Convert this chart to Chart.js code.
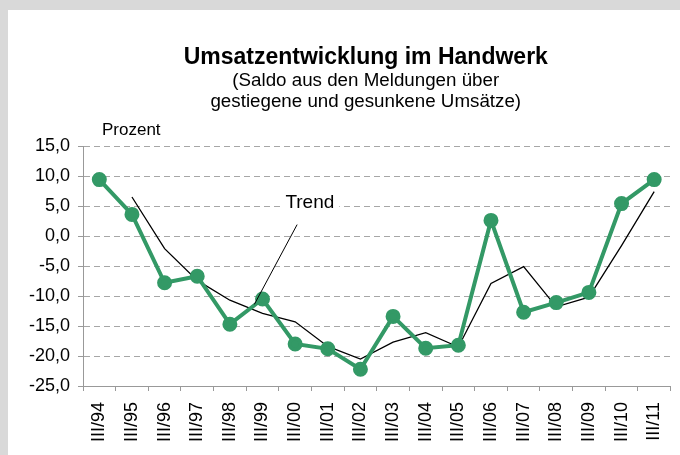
<!DOCTYPE html>
<html lang="de">
<head>
  <meta charset="UTF-8">
  <meta name="viewport" content="width=device-width, initial-scale=1.0">
  <title>Umsatzentwicklung im Handwerk</title>
  <style>
    body {
      margin: 0;
      background: #d9d9d9;
      font-family: "Liberation Sans", Arial, sans-serif;
    }
    .panel {
      position: absolute;
      left: 8px;
      top: 10px;
      width: 672px;
      height: 445px;
      background: #fff;
    }
    canvas {
      display: block;
    }
  </style>
</head>
<body>
  <div class="panel">
    <canvas id="umsatzChart" width="672" height="445"></canvas>
  </div>

  <script src="https://cdn.jsdelivr.net/npm/chart.js"></script>
  <script>
    // Quartale (jeweils III. Quartal)
    const quartale = ['III/94', 'III/95', 'III/96', 'III/97', 'III/98', 'III/99', 'III/00', 'III/01', 'III/02',
                      'III/03', 'III/04', 'III/05', 'III/06', 'III/07', 'III/08', 'III/09', 'III/10', 'III/11'];
    // Saldo gestiegene minus gesunkene Umsätze, in Prozent
    const saldo = [9.4, 3.6, -7.8, -6.7, -14.7, -10.5, -18.0, -18.8, -22.2,
                   -13.4, -18.7, -18.2, 2.6, -12.7, -11.1, -9.4, 5.4, 9.4];
    // geglätteter Trend (erst ab III/95)
    const trend = [null, 6.5, -2.1, -7.4, -10.7, -12.9, -14.3, -18.4, -20.5,
                   -17.7, -16.1, -18.5, -7.9, -5.1, -11.8, -10.2, -1.6, 7.4];
    // y-Achse
    const yMin = -25;
    const yMax = 15;
    const yStep = 5;

    const titel = 'Umsatzentwicklung im Handwerk';
    const untertitel = ['(Saldo aus den Meldungen über', 'gestiegene und gesunkene Umsätze)'];

    // Beschriftung "Trend" mit Hinweislinie (in Achsenkoordinaten)
    const trendLabel = { text: 'Trend', x: 6.45, y: 5.5 };
    const trendPointer = { from: { x: 6.06, y: 1.9 }, to: { x: 4.75, y: -11.4 } };

    const FONT = '"Liberation Sans", Arial, sans-serif';
    const fmt = v => v.toFixed(1).replace('.', ',');

    // Überschrift, Einheit und Trend-Beschriftung
    const extras = {
      id: 'extras',
      afterDatasetsDraw(chart) {
        const { ctx, chartArea, scales: { x, y } } = chart;
        const cx = (chartArea.left + chartArea.right) / 2 - 11;
        ctx.save();
        ctx.fillStyle = '#000';
        ctx.textAlign = 'center';
        ctx.textBaseline = 'middle';
        ctx.font = 'bold 23px ' + FONT;
        ctx.fillText(titel, cx, 48);
        ctx.font = '18.75px ' + FONT;
        untertitel.forEach((line, i) => ctx.fillText(line, cx, 71 + i * 21));

        // Einheit über der y-Achse
        ctx.font = '17px ' + FONT;
        ctx.textAlign = 'left';
        ctx.fillText('Prozent', chartArea.left + 19, chartArea.top - 16);

        // Hinweislinie zum Trend
        ctx.strokeStyle = '#000';
        ctx.lineWidth = 1;
        ctx.beginPath();
        ctx.moveTo(x.getPixelForValue(trendPointer.from.x), y.getPixelForValue(trendPointer.from.y));
        ctx.lineTo(x.getPixelForValue(trendPointer.to.x), y.getPixelForValue(trendPointer.to.y));
        ctx.stroke();

        // Label mit weißem Hintergrund
        ctx.font = '19px ' + FONT;
        const lx = x.getPixelForValue(trendLabel.x);
        const ly = y.getPixelForValue(trendLabel.y);
        const w = ctx.measureText(trendLabel.text).width;
        ctx.fillStyle = '#fff';
        ctx.fillRect(lx - w / 2 - 5, ly - 10, w + 10, 20);
        ctx.fillStyle = '#000';
        ctx.textAlign = 'center';
        ctx.fillText(trendLabel.text, lx, ly);
        ctx.restore();
      }
    };

    new Chart(document.getElementById('umsatzChart'), {
      type: 'line',
      data: {
        labels: quartale,
        datasets: [{
          label: 'Saldo',
          data: saldo,
          borderColor: '#339966',
          backgroundColor: '#339966',
          borderWidth: 4,
          pointRadius: 5.5,
          pointHoverRadius: 5.5,
          tension: 0,
          order: 1
        }, {
          label: 'Trend',
          data: trend,
          borderColor: '#000',
          borderWidth: 1.3,
          pointRadius: 0,
          tension: 0,
          order: 2
        }]
      },
      options: {
        responsive: false,
        animation: false,
        layout: { padding: { left: 0, right: -6, top: 136, bottom: 0 } },
        plugins: {
          legend: { display: false },
          tooltip: { enabled: false }
        },
        scales: {
          x: {
            offset: true,
            grid: {
              offset: true,
              drawOnChartArea: false,
              drawTicks: true,
              tickLength: 5,
              tickColor: '#999',
              tickWidth: 1
            },
            border: { color: '#999', width: 1 },
            ticks: {
              color: '#000',
              font: { family: FONT, size: 18 },
              minRotation: 90,
              maxRotation: 90,
              autoSkip: false,
              padding: 11
            },
            afterFit(scale) {
              scale.height = 69;
              scale.paddingLeft = 0;
              scale.paddingRight = 0;
            }
          },
          y: {
            min: yMin,
            max: yMax,
            grid: {
              color: '#a6a6a6',
              lineWidth: 1,
              tickLength: 5,
              tickColor: '#999',
              tickBorderDash: []
            },
            border: { color: '#999', width: 1, dash: [6, 4] },
            ticks: {
              stepSize: yStep,
              color: '#000',
              font: { family: FONT, size: 18 },
              padding: 8,
              callback: v => fmt(v)
            },
            afterFit(scale) { scale.width = 75; }
          }
        }
      },
      plugins: [extras]
    });
  </script>
</body>
</html>
